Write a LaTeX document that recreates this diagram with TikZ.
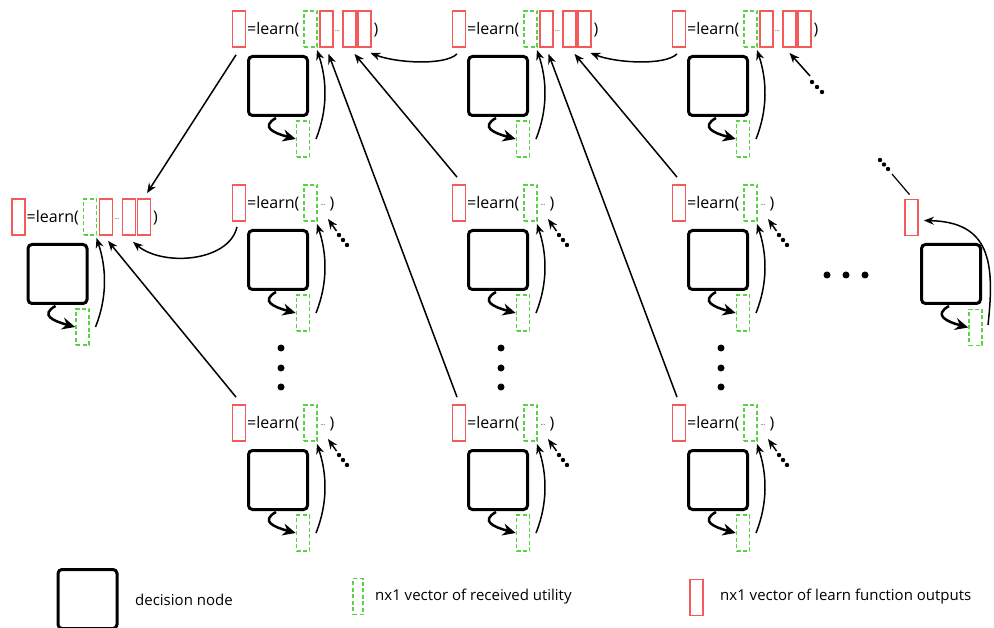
\documentclass[tikz,border=0pt]{standalone}
\usepackage{fontspec}
\setmainfont{Open Sans}
\usetikzlibrary{arrows.meta}

\definecolor{outred}{RGB}{245,90,90}
\definecolor{utilgreen}{RGB}{90,210,70}

\begin{document}
\begin{tikzpicture}[x=1pt, y=-1pt,
  outbox/.style={draw=outred, line width=1.8pt, minimum width=13pt, minimum height=36pt, inner sep=0pt},
  utilbox/.style={draw=utilgreen, line width=1.6pt, dash pattern=on 4pt off 2.5pt, minimum width=13pt, minimum height=36pt, inner sep=0pt},
  decision/.style={draw, line width=3pt, rounded corners=4pt, minimum width=59pt, minimum height=59pt, inner sep=0pt},
  lbl/.style={inner sep=0pt, font=\fontsize{16}{19}\selectfont},
  keylbl/.style={inner sep=0pt, font=\fontsize{15}{18}\selectfont},
  dotlbl/.style={inner sep=0pt, font=\fontsize{6}{6}\selectfont},
  link/.style={-{Stealth[length=10pt, width=8pt]}, line width=1.5pt},
  feed/.style={-{Stealth[length=13pt, width=12pt]}, line width=2.5pt}]

  \useasboundingbox (0,0) rectangle (994,628);
  \clip (0,0) rectangle (994,628);

  % Units with a learn function
  \foreach \n/\x/\y in {TL/239/29, TM/459/29, TR/679/29, ML/18.5/217,
                        M1/239/203, M2/459/203, M3/679/203,
                        B1/239/423, B2/459/423, B3/679/423} {
    \node[outbox] (\n-r) at (\x,\y) {};
    \node[lbl, anchor=west] (\n-t) at (\x+8,\y+1) {=learn(};
    \node[utilbox] (\n-g) at (\x+71.5,\y) {};
    \node[decision] (\n-sq) at (\x+39,\y+57) {};
    \node[utilbox] (\n-u) at (\x+64,\y+110) {};
    \draw[feed] (\x+37,\y+89) .. controls +(-16,9) and +(-22,-6) .. (\n-u.west);
    \draw[link] (\x+77,\y+110) .. controls +(12,-30) and +(10,30) .. (\x+78,\y+21);
  }

  % Learn functions with received outputs
  \foreach \n/\x/\y in {TL/239/29, TM/459/29, TR/679/29, ML/18.5/217} {
    \node[outbox] (\n-b2) at (\x+87.5,\y) {};
    \node[dotlbl] (\n-d) at (\x+98.5,\y+2) {\dots};
    \node[outbox] (\n-b3) at (\x+110.5,\y) {};
    \node[outbox] (\n-b4) at (\x+125.5,\y) {};
    \node[lbl] (\n-c) at (\x+137,\y+1) {)};
  }

  % Learn functions fed from further nodes
  \foreach \n/\x/\y in {M1/239/203, M2/459/203, M3/679/203,
                        B1/239/423, B2/459/423, B3/679/423} {
    \node[dotlbl] (\n-d) at (\x+84,\y+2) {\dots};
    \node[lbl] (\n-c) at (\x+93,\y+1) {)};
    \coordinate (\n-in) at (\x+97.5,\y+28);
    \draw[link] (\n-in) -- (\x+89,\y+16);
    \foreach \k in {0,1,2} \fill (\x+100+4*\k,\y+32+5*\k) circle (2.2);
  }

  % Last node
  \node[outbox] (FR-r) at (911.5,217.5) {};
  \node[decision] (FR-sq) at (951,274) {};
  \node[utilbox] (FR-u) at (975.5,327.5) {};
  \draw[feed] (949,306) .. controls +(-16,9) and +(-22,-6) .. (FR-u.west);
  \draw[link] (988,325) .. controls (995,262) and (990,222) .. ([xshift=5pt,yshift=-3pt]FR-r.east);
  \coordinate (FR-m) at (892,174);
  \draw[line width=1.2pt] ([xshift=-2pt,yshift=4pt]FR-r.north) -- (FR-m);
  \foreach \k in {0,1,2} \fill (880+4*\k,160+4.5*\k) circle (2.2);

  % Outputs passed to the top row
  \draw[link] ([xshift=-2pt,yshift=-6pt]TM-r.south) .. controls +(-12,12) and +(25,10) .. ([xshift=6pt,yshift=-5pt]TL-b4.south);
  \draw[link] ([xshift=-2pt,yshift=-6pt]TR-r.south) .. controls +(-12,12) and +(25,10) .. ([xshift=6pt,yshift=-5pt]TM-b4.south);
  \draw[link] ([xshift=-2pt,yshift=7pt]M2-r.north) -- ([xshift=5pt,yshift=-6pt]TL-b3.south);
  \draw[link] ([xshift=-2pt,yshift=7pt]M3-r.north) -- ([xshift=5pt,yshift=-6pt]TM-b3.south);
  \draw[link] ([xshift=-2pt,yshift=7pt]B2-r.north) -- ([xshift=2pt,yshift=-6pt]TL-b2.south);
  \draw[link] ([xshift=-2pt,yshift=7pt]B3-r.north) -- ([xshift=2pt,yshift=-6pt]TM-b2.south);
  \coordinate (TR-in) at (810,76);
  \draw[link] (TR-in) -- ([yshift=-5pt]TR-b3.south);
  \foreach \k in {0,1,2} \fill (812+5*\k,82+5*\k) circle (2.2);

  % Outputs passed to the left node
  \draw[link] ([xshift=-3pt,yshift=-7pt]TL-r.south) -- ([xshift=3pt,yshift=5pt]ML-b4.north);
  \draw[link] ([xshift=-2pt,yshift=-5pt]M1-r.south) .. controls +(-8,35) and +(30,25) .. ([xshift=4pt,yshift=-6pt]ML-b3.south);
  \draw[link] ([xshift=-3pt,yshift=7pt]B1-r.north) -- ([xshift=2pt,yshift=-5pt]ML-b2.south);

  % Ellipses
  \foreach \x in {281,501,721} \foreach \y in {348,368,387} \fill (\x,\y) circle (3.5);
  \foreach \x in {827,846,865} \fill (\x,275) circle (3.5);

  % Legend
  \node[decision] (L-sq) at (87.5,599) {};
  \node[keylbl, anchor=west] (L-sqt) at (135,600) {decision node};
  \node[utilbox, minimum width=10pt] (L-g) at (358,596.5) {};
  \node[keylbl, anchor=west] (L-gt) at (375,597) {nx1 vector of received utility};
  \node[outbox] (L-r) at (696.5,597.5) {};
  \node[keylbl, anchor=west] (L-rt) at (720,597) {nx1 vector of learn function outputs};

\end{tikzpicture}
\end{document}
